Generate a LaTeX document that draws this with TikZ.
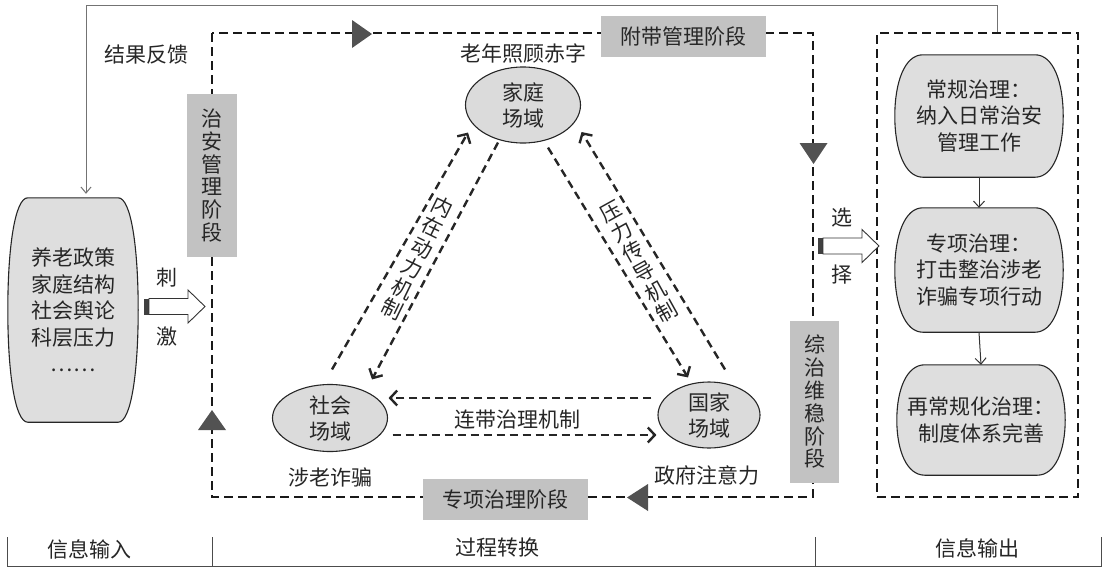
\documentclass[tikz,border=0pt]{standalone}
\usepackage{fontspec}
\setmainfont{Noto Sans CJK SC}
\usetikzlibrary{shapes.geometric,arrows.meta,calc,backgrounds}
\tikzset{
  vstack/.style={font=\fontsize{21}{22.8}\selectfont, align=center},
  stagebox/.style={fill=black!24, inner sep=0pt},
  field/.style={ellipse, draw=black!85, line width=1.1pt, fill=black!14, align=center, inner sep=0pt},
  textbox/.style={rectangle, align=center, inner sep=0pt},
  barrelline/.style={draw=black!85, line width=1.1pt, fill=black!13},
  loopline/.style={draw=black!90, line width=2.8pt, dash pattern=on 9pt off 5pt},
  mech/.style={draw=black!85, line width=2.4pt, dash pattern=on 8pt off 5pt, -{Straight Barb[length=7pt,width=15pt]}},
  fbline/.style={draw=black!55, line width=1pt},
  flowarr/.style={draw=black!80, line width=1pt, -{Straight Barb[length=6pt,width=11pt]}},
  tri/.style={fill=black!68},
  axisline/.style={draw=black!70, line width=1pt},
  hollowarr/.pic={
    \fill[black!75] (0,-8) rectangle (5,8);
    \draw[fill=white, draw=black!80, line width=0.9pt] (5,-8) -- (44,-8) -- (44,-16.5) -- (61,0) -- (44,16.5) -- (44,8) -- (5,8) -- cycle;
  }
}
\newcommand\barrelbg[2]{%
  \begin{scope}[on background layer]
  \draw[barrelline] ([xshift=#2]#1.north west) -- ([xshift=-#2]#1.north east)
    .. controls ([xshift=-0.35*#2]#1.north east) and ($(#1.east)!0.55!(#1.north east)$) .. (#1.east)
    .. controls ($(#1.east)!0.55!(#1.south east)$) and ([xshift=-0.35*#2]#1.south east) .. ([xshift=-#2]#1.south east)
    -- ([xshift=#2]#1.south west)
    .. controls ([xshift=0.35*#2]#1.south west) and ($(#1.west)!0.55!(#1.south west)$) .. (#1.west)
    .. controls ($(#1.west)!0.55!(#1.north west)$) and ([xshift=0.35*#2]#1.north west) .. cycle;
  \end{scope}}
\begin{document}
\begin{tikzpicture}[x=1pt,y=-1pt,
  every node/.style={font=\fontsize{21}{26}\selectfont, text=black!85, inner sep=0pt}]
\useasboundingbox (0,0) rectangle (1103,568);

% input box
\node[textbox, minimum width=130pt, minimum height=224pt, font=\fontsize{21}{26.5}\selectfont] (src) at (73,310) {养老政策\\家庭结构\\社会舆论\\科层压力\\……};
\barrelbg{src}{20pt}

% output boxes
\node[textbox, minimum width=168pt, minimum height=122pt, font=\fontsize{21}{26.5}\selectfont] (r1) at (979,116) {常规治理：\\纳入日常治安\\管理工作};
\node[textbox, minimum width=168pt, minimum height=124pt, font=\fontsize{21}{26.5}\selectfont] (r2) at (979,270) {专项治理：\\打击整治涉老\\诈骗专项行动};
\node[textbox, minimum width=168pt, minimum height=110pt, font=\fontsize{21}{26.5}\selectfont] (r3) at (981,420) {再常规化治理：\\制度体系完善};
\barrelbg{r1}{28pt}
\barrelbg{r2}{28pt}
\barrelbg{r3}{28pt}
\draw[flowarr] (r1.south) -- (r2.north);
\draw[flowarr] (r2.south) -- (r3.north);

% output dashed frame
\node[draw=black!90, line width=2.8pt, dash pattern=on 9pt off 5pt, minimum width=201pt, minimum height=464pt, inner sep=0pt] (outbox) at (977.5,265) {};

% feedback line
\draw[fbline, -{Straight Barb[length=6pt,width=10pt]}, shorten >=4pt] ([xshift=19.5pt]outbox.north) -- ++(0,-26) -| ([xshift=13pt]src.north);
\node (fb) at (146,55) {结果反馈};

% process loop
\coordinate (loopnw) at (212,33);
\coordinate (loopse) at (813,497);
\draw[loopline] (loopnw) rectangle (loopse);
\fill[tri] (352,20) -- (372,34) -- (352,48) -- cycle;
\fill[tri] (799.5,143) -- (827.5,143) -- (813.5,164) -- cycle;
\fill[tri] (648,484) -- (627,497.5) -- (648,511) -- cycle;
\fill[tri] (198,430) -- (226,430) -- (212,410) -- cycle;

% stage boxes
\node[stagebox, minimum width=165pt, minimum height=41pt] (st1) at (683.5,36.5) {附带管理阶段};
\node[stagebox, vstack, minimum width=50pt, minimum height=163pt] (st2) at (212,175.5) {治\\安\\管\\理\\阶\\段};
\node[stagebox, vstack, minimum width=49pt, minimum height=162pt] (st3) at (814.5,402) {综\\治\\维\\稳\\阶\\段};
\node[stagebox, minimum width=165pt, minimum height=41pt] (st4) at (505.5,499.5) {专项治理阶段};

% fields
\node[field, minimum width=115pt, minimum height=76pt, font=\fontsize{21}{26}\selectfont] (fam) at (523,105) {家庭\\场域};
\node[field, minimum width=115pt, minimum height=67pt, font=\fontsize{21}{26}\selectfont] (soc) at (330,418) {社会\\场域};
\node[field, minimum width=102pt, minimum height=66pt, font=\fontsize{21}{26}\selectfont] (sta) at (709,415) {国家\\场域};
\node (famlab) at (523,53) {老年照顾赤字};
\node (soclab) at (330,477) {涉老诈骗};
\node (stalab) at (707,475) {政府注意力};

% mechanisms
\draw[mech] ($(soc.north)+(2,-14.5)$) -- ($(fam.south)+(-55,-11)$);
\draw[mech] ($(fam.south)+(-25,-1)$) -- ($(soc.north)+(42,-4.5)$);
\draw[mech] ($(fam.south)+(25,4)$) -- ($(sta.north)+(-21,-4)$);
\draw[mech] ($(sta.north)+(16,-12)$) -- ($(fam.east)+(0.5,27)$);
\draw[mech] ($(sta.west)+(-6,-17)$) -- ($(soc.east)+(0.5,-20)$);
\draw[mech] ($(soc.east)+(4.5,17)$) -- ($(sta.west)+(-1,20)$);
\node[vstack, rotate=-26] (lab1) at (417,258) {内\\在\\动\\力\\机\\制};
\node[vstack, rotate=29] (lab2) at (639,262) {压\\力\\传\\导\\机\\制};
\node (lab3) at (517,420) {连带治理机制};

% stimulus and selection arrows
\pic at (144,306.5) {hollowarr};
\node (ci) at (167,278) {刺};
\node (ji) at (167,337) {激};
\pic at (818,246) {hollowarr};
\node (xuan) at (842,218) {选};
\node (ze) at (842,275) {择};

% bottom axis
\draw[axisline] (7,537) -- (7,566) -- (1101,566) -- (1101,537);
\draw[axisline] (212,537) -- (212,566);
\draw[axisline] (815,537) -- (815,566);
\node (lin) at (89,549) {信息输入};
\node (lproc) at (497,548) {过程转换};
\node (lout) at (977,548) {信息输出};
\end{tikzpicture}
\end{document}
